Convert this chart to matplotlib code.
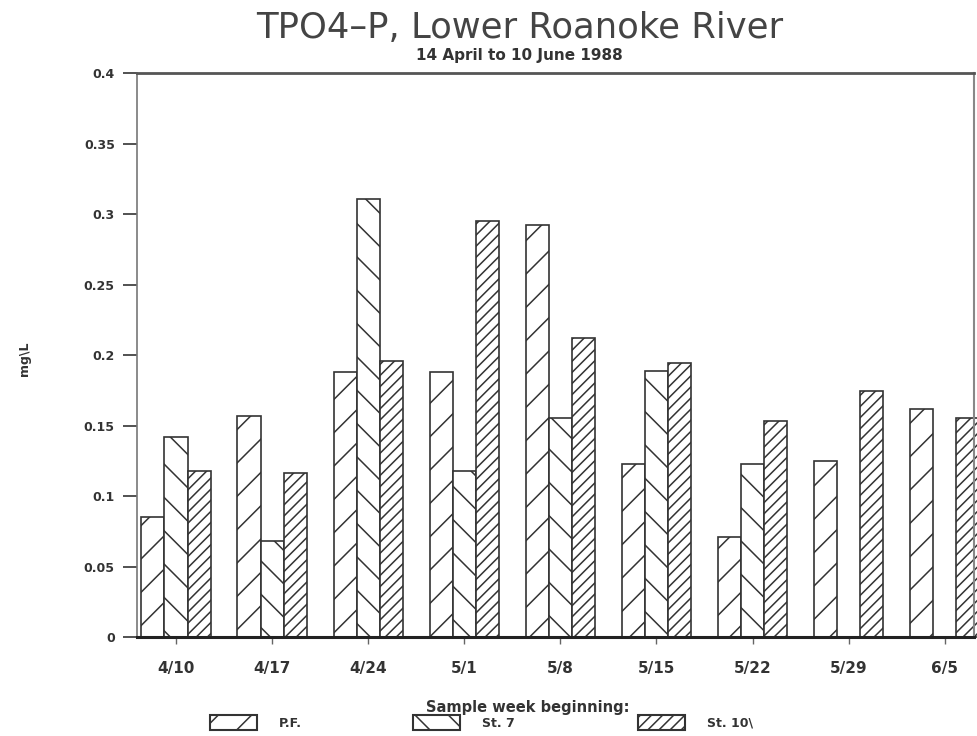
import numpy as np
import matplotlib
matplotlib.use('Agg')
import matplotlib.pyplot as plt
from matplotlib.patches import Patch

weeks = ['4/10', '4/17', '4/24', '5/1', '5/8', '5/15', '5/22', '5/29', '6/5']
pf = [0.085, 0.157, 0.188, 0.188, 0.292, 0.123, 0.071, 0.1245, 0.162]
st7 = [0.142, 0.068, 0.311, 0.118, 0.155, 0.189, 0.123, 0.0, 0.0]
st10 = [0.118, 0.116, 0.196, 0.295, 0.212, 0.194, 0.153, 0.1745, 0.155]
yticks = [0, 0.05, 0.1, 0.15, 0.2, 0.25, 0.3, 0.35, 0.4]

ink = '#333333'
plt.rcParams['hatch.linewidth'] = 1.1

fig = plt.figure(figsize=(9.77, 7.36), dpi=100)
ax = fig.add_axes([0.1402, 0.1345, 0.8567, 0.7663])

x = np.arange(len(weeks))
w = 0.24
series = [(pf, '/', 'P.F.'), (st7, '\\', 'St. 7'), (st10, '///', 'St. 10\\')]
for k, (vals, hatch, name) in enumerate(series):
    ax.bar(x + (k - 1) * w, vals, width=w, facecolor='white', edgecolor=ink,
           hatch=hatch, linewidth=1.2, clip_on=False, zorder=2)

ax.set_xlim(-0.406, 8.304)
ax.set_ylim(0, 0.4)
ax.set_xticks(x)
ax.set_xticklabels(weeks, fontsize=11, fontweight='bold', color=ink)
ax.set_yticks(yticks)
ax.set_yticklabels(['%g' % t for t in yticks], fontsize=9,
                   fontweight='bold', color=ink)
ax.tick_params(axis='y', direction='out', length=10, width=1.2,
               pad=6, color=ink)
ax.tick_params(axis='x', direction='out', length=5, width=1.0,
               pad=12, color='#666666')

ax.spines['bottom'].set_linewidth(2.2)
ax.spines['bottom'].set_color('#222222')
ax.spines['bottom'].set_zorder(3)
ax.spines['top'].set_linewidth(2.0)
ax.spines['top'].set_color('#555555')
ax.spines['left'].set_linewidth(1.2)
ax.spines['left'].set_color('#777777')
ax.spines['right'].set_linewidth(1.5)
ax.spines['right'].set_color('#888888')

fig.text(0.5317, 0.9484, 'TPO4\u2013P, Lower Roanoke River', ha='center',
         va='baseline', fontsize=25.5, color='#444444')
fig.text(0.5317, 0.9185, '14 April to 10 June 1988', ha='center',
         va='baseline', fontsize=11, fontweight='bold', color=ink)
fig.text(0.0246, 0.512, 'mg\\L', rotation=90, ha='center', va='center',
         fontsize=9, fontweight='bold', color=ink)
fig.text(0.540, 0.0394, 'Sample week beginning:', ha='center', va='center',
         fontsize=10.5, fontweight='bold', color=ink)

# one legend entry per box so each can sit at its own spot
legend_x = [0.2088, 0.4166, 0.6469]
for (_, h, name), lx in zip(series, legend_x):
    handle = Patch(facecolor='white', edgecolor=ink, hatch=h, linewidth=1.5)
    fig.legend([handle], [name], frameon=False, loc='center left',
               bbox_to_anchor=(lx, 0.0183), borderpad=0,
               handlelength=3.76, handleheight=1.52, handletextpad=1.7,
               prop={'size': 9, 'weight': 'bold'}, labelcolor=ink)

fig.savefig('out.png', dpi=100)
